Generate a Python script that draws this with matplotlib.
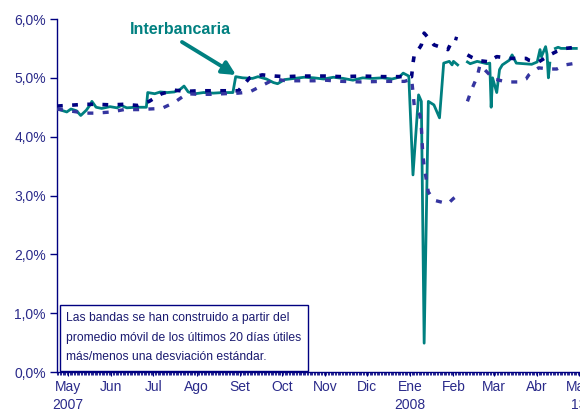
import numpy as np
import pandas as pd
import matplotlib
matplotlib.use("Agg")
import matplotlib.pyplot as plt
import matplotlib.dates as mdates
from matplotlib.patches import Rectangle

plt.rcParams['font.family'] = ['Liberation Sans', 'DejaVu Sans']

# =========================
# DATA
# =========================
tasa_fechas = ["2007-04-23", "2007-04-26", "2007-04-30", "2007-05-03", "2007-05-07", "2007-05-10",
               "2007-05-14", "2007-05-17", "2007-05-18", "2007-05-21", "2007-05-25", "2007-05-31",
               "2007-06-05", "2007-06-08", "2007-06-12", "2007-06-18", "2007-06-22", "2007-06-26",
               "2007-06-27", "2007-07-02", "2007-07-06", "2007-07-11", "2007-07-16", "2007-07-20",
               "2007-07-23", "2007-07-26", "2007-07-31", "2007-08-06", "2007-08-13", "2007-08-20",
               "2007-08-27", "2007-08-29", "2007-09-03", "2007-09-10", "2007-09-14", "2007-09-20",
               "2007-09-25", "2007-09-28", "2007-10-03", "2007-10-10", "2007-10-17", "2007-10-24",
               "2007-10-31", "2007-11-07", "2007-11-14", "2007-11-21", "2007-11-28", "2007-12-05",
               "2007-12-12", "2007-12-19", "2007-12-24", "2007-12-27", "2007-12-31", "2008-01-03",
               "2008-01-07", "2008-01-09", "2008-01-11", "2008-01-14", "2008-01-18", "2008-01-22",
               "2008-01-25", "2008-01-29", "2008-01-31", "2008-02-01", "2008-02-04", "2008-02-06",
               "2008-02-11", "2008-02-13", "2008-02-18", "2008-02-25", "2008-02-27", "2008-02-28",
               "2008-02-29", "2008-03-03", "2008-03-05", "2008-03-07", "2008-03-12", "2008-03-14",
               "2008-03-17", "2008-03-28", "2008-04-01", "2008-04-03", "2008-04-04", "2008-04-07",
               "2008-04-08", "2008-04-09", "2008-04-10", "2008-04-11", "2008-04-14", "2008-04-16",
               "2008-04-18", "2008-04-29"]
tasa = [4.47, 4.45, 4.42, 4.47, 4.44, 4.36,
        4.45, 4.55, 4.60, 4.50, 4.48, 4.51,
        4.49, 4.53, 4.49, 4.50, 4.50, 4.50,
        4.75, 4.73, 4.76, 4.75, 4.76, 4.80,
        4.86, 4.76, 4.73, 4.75, 4.74, 4.75,
        4.75, 5.02, 5.00, 4.99, 5.02, 4.98,
        4.92, 4.90, 4.97, 4.99, 5.01, 5.00,
        4.98, 5.01, 4.99, 4.96, 5.00, 4.99,
        5.00, 4.98, 5.01, 5.08, 5.03, 3.35,
        4.71, 4.60, 0.49, 4.60, 4.54, 4.32,
        5.25, 5.28, 5.22, 5.28, 5.22, np.nan,
        5.27, 5.24, 5.28, 5.24, 5.25, 4.50,
        5.00, 4.75, 5.14, 5.22, 5.30, 5.39,
        5.25, 5.23, 5.27, 5.48, 5.36, 5.53,
        5.40, 5.00, 5.25, np.nan, 5.50, 5.52,
        5.50, 5.50]

banda_fechas = ["2007-04-23", "2007-05-13", "2007-05-21", "2007-06-01", "2007-06-10", "2007-06-20",
                "2007-06-28", "2007-07-07", "2007-07-16", "2007-07-25", "2007-08-02", "2007-08-11",
                "2007-08-21", "2007-08-31", "2007-09-08", "2007-09-17", "2007-09-26", "2007-10-04",
                "2007-10-14", "2007-10-24", "2007-11-01", "2007-11-13", "2007-11-27", "2007-12-13",
                "2007-12-28", "2008-01-02", "2008-01-03", "2008-01-04", "2008-01-08", "2008-01-09",
                "2008-01-10", "2008-01-11", "2008-01-14", "2008-01-18", "2008-01-28", "2008-02-01",
                "2008-02-04", "2008-02-07", "2008-02-11", "2008-02-14", "2008-02-18", "2008-02-20",
                "2008-02-27", "2008-02-29", "2008-03-03", "2008-03-10", "2008-03-13", "2008-03-19",
                "2008-03-24", "2008-03-26", "2008-04-02", "2008-04-10", "2008-04-15", "2008-04-21",
                "2008-04-29"]
banda_sup = [4.52, 4.55, 4.55, 4.54, 4.55, 4.53,
             4.60, 4.73, 4.79, 4.77, 4.78, 4.78,
             4.78, 4.78, 5.00, 5.05, 5.03, 5.02,
             5.03, 5.03, 5.03, 5.02, 5.03, 5.02,
             5.02, 5.02, 5.25, 5.40, 5.52, 5.56,
             5.66, 5.76, 5.68, 5.56, 5.48, 5.68,
             5.66, np.nan, 5.39, 5.35, 5.31, 5.29,
             5.27, 5.32, 5.36, 5.34, 5.33, 5.33,
             5.33, 5.30, 5.27, 5.39, 5.45, 5.50,
             5.52]
banda_inf = [4.47, 4.40, 4.40, 4.42, 4.46, 4.46,
             4.47, 4.48, 4.58, 4.73, 4.72, 4.72,
             4.73, 4.74, 4.76, 4.87, 4.98, 4.95,
             4.95, 4.95, 4.96, 4.94, 4.93, 4.94,
             4.94, 4.98, 4.76, 4.50, 4.37, 4.15,
             3.72, 3.49, 3.06, 2.92, 2.86, 2.95,
             3.00, np.nan, 4.60, 4.80, 5.02, 5.22,
             5.05, 4.98, 4.97, 4.93, 4.93, 4.93,
             4.98, 5.05, 5.17, 5.15, 5.15, 5.22,
             5.25]

meses = ["May\n2007", "Jun", "Jul", "Ago", "Set", "Oct", "Nov", "Dic",
         "Ene\n2008", "Feb", "Mar", "Abr", "May\n13"]

nota = ("Las bandas se han construido a partir del\n"
        "promedio móvil de los últimos 20 días útiles\n"
        "más/menos una desviación estándar.")

azul = "#000080"
azul2 = "#3535a0"
verde = "#008080"

# =========================
# FIGURE
# =========================
W, H = 580, 412
fig = plt.figure(figsize=(W / 100, H / 100), dpi=100)

x0 = pd.Timestamp("2007-04-23")
x1 = pd.Timestamp("2008-05-08")
px_dia = 1.396
ancho = (x1 - x0).days * px_dia / W
ax = fig.add_axes([57 / W, 1 - 372 / H, ancho, (372 - 19) / H])

t = pd.to_datetime(tasa_fechas)
b = pd.to_datetime(banda_fechas)

ax.plot(t, tasa, color=verde, lw=2.0, zorder=2)
ax.plot(b, banda_sup, color=azul, lw=2.6, dashes=(1.6, 2.6), zorder=3)
ax.plot(b, banda_inf, color=azul2, lw=2.4, dashes=(1.8, 2.8), zorder=3)

ax.set_xlim(x0, x1)
ax.set_ylim(0, 6)
ax.set_yticks(np.arange(0, 7, 1))
ax.set_yticklabels([f"{v:.1f}%".replace(".", ",") for v in range(7)])

ticks = pd.date_range("2007-05-01", "2008-05-01", freq="MS")
ax.set_xticks(ticks)
ax.set_xticklabels(meses)
ax.xaxis.set_minor_locator(mdates.DayLocator())

for s in ["top", "right"]:
    ax.spines[s].set_visible(False)
for s in ["left", "bottom"]:
    ax.spines[s].set_color(azul)
    ax.spines[s].set_linewidth(1.0)

ax.tick_params(axis="y", colors=azul, labelcolor="#2a2a8a", length=5, width=1,
               labelsize=10, pad=3)
ax.tick_params(axis="x", which="major", colors=azul, labelcolor="#2a2a8a", length=3,
               width=0.8, labelsize=10, pad=3)
ax.tick_params(axis="x", which="minor", colors=azul, length=2.5, width=0.6)
for lab in ax.get_xticklabels():
    lab.set_horizontalalignment("center")
    lab.set_linespacing(1.35)

# annotation
fig.text(180 / W, 1 - 30 / H, "Interbancaria", ha="center", va="center",
         fontsize=11.5, fontweight="bold", color=verde)
ax.annotate("", xy=(236 / W, 1 - 75 / H), xycoords="figure fraction",
            xytext=(182 / W, 1 - 42 / H), textcoords="figure fraction",
            arrowprops=dict(arrowstyle="-|>,head_length=0.8,head_width=0.4",
                            color=verde, lw=2.8, shrinkA=0, shrinkB=0))

# note box
fig.patches.append(Rectangle((60 / W, 1 - 371 / H), 248 / W, 66 / H,
                             transform=fig.transFigure, facecolor="white",
                             edgecolor=azul, lw=1.0, zorder=5))
fig.text(66 / W, 1 - 312 / H, nota, ha="left", va="top", fontsize=8.7,
         color="#1a1a70", linespacing=1.85, zorder=6)

fig.savefig("out.png", dpi=100)
